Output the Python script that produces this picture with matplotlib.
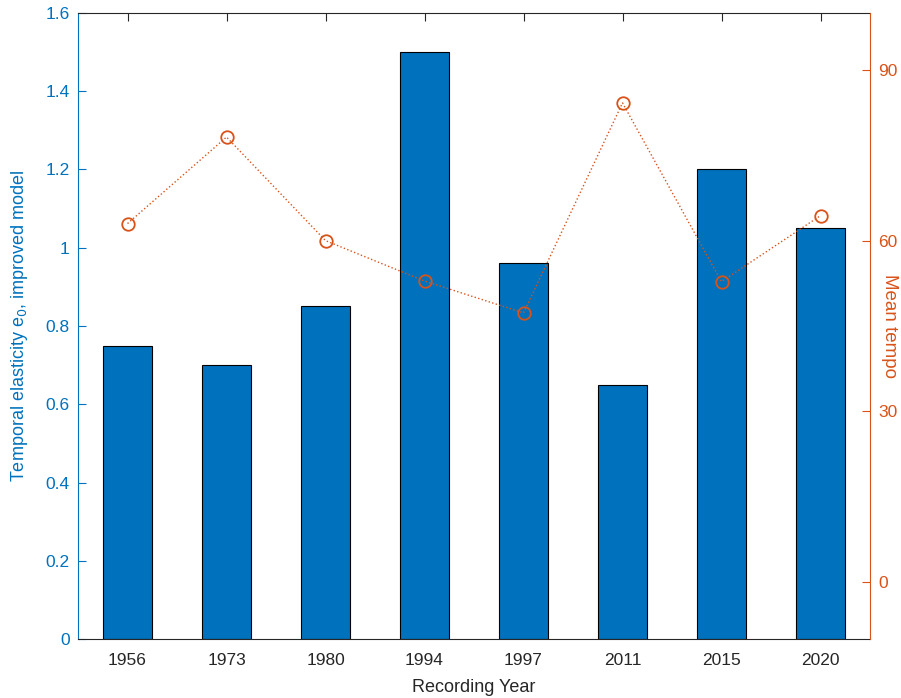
import numpy as np
import matplotlib.pyplot as plt

plt.rcParams['font.family'] = ['Liberation Sans', 'DejaVu Sans']

# Data
years = ['1956', '1973', '1980', '1994', '1997', '2011', '2015', '2020']
elasticity = [0.75, 0.70, 0.85, 1.50, 0.96, 0.65, 1.20, 1.05]
mean_tempo = [63.0, 78.2, 60.0, 52.9, 47.3, 84.2, 52.8, 64.4]

blue = '#0072BD'
orange = '#D95319'
dark = '#262626'

fig = plt.figure(figsize=(9.01, 6.98), dpi=100)
ax = fig.add_axes([0.0866, 0.0845, 0.8790, 0.8969])

x = np.arange(1, len(years) + 1)
ax.bar(x, elasticity, width=0.5, color=blue, edgecolor='black', linewidth=0.8, zorder=2)
ax.set_xlim(0.5, len(years) + 0.5)
ax.set_ylim(0, 1.6)
ax.set_xticks(x)
ax.set_xticklabels(years)
ax.set_yticks(np.arange(0, 1.61, 0.2))
ax.set_yticklabels(['0', '0.2', '0.4', '0.6', '0.8', '1', '1.2', '1.4', '1.6'])
ax.set_xlabel('Recording Year', fontsize=13, color=dark, labelpad=8)
ax.set_ylabel('Temporal elasticity e$_0$, improved model', fontsize=13, color=blue,
              va='center', ha='center')
ax.yaxis.set_label_coords(-0.0734, 0.5)
ax.tick_params(axis='x', direction='in', length=6, width=0.8, colors=dark,
               labelsize=12.5, pad=10, top=True)
ax.tick_params(axis='y', direction='in', length=6, width=0.8, colors=blue, labelsize=12.5, pad=6)
ax.spines['left'].set_color(blue)
ax.spines['top'].set_color(dark)
ax.spines['bottom'].set_color(dark)
ax.spines['right'].set_visible(False)
for s in ax.spines.values():
    s.set_linewidth(0.8)

ax2 = ax.twinx()
ax2.plot(x, mean_tempo, linestyle=':', color=orange, linewidth=1.0,
         marker='o', markersize=9, markerfacecolor='none', markeredgewidth=1.3)
ax2.set_ylim(-10, 100)
ax2.set_yticks([0, 30, 60, 90])
ax2.set_ylabel('Mean tempo', fontsize=13.5, color=orange, rotation=270,
               va='center', ha='center')
ax2.yaxis.set_label_coords(1.025, 0.5)
ax2.tick_params(axis='y', direction='in', length=6, width=0.8, colors=orange, labelsize=12.5, pad=6)
ax2.spines['right'].set_color(orange)
ax2.spines['right'].set_linewidth(0.8)
for side in ['left', 'top', 'bottom']:
    ax2.spines[side].set_visible(False)

fig.savefig('out.png', dpi=100)
